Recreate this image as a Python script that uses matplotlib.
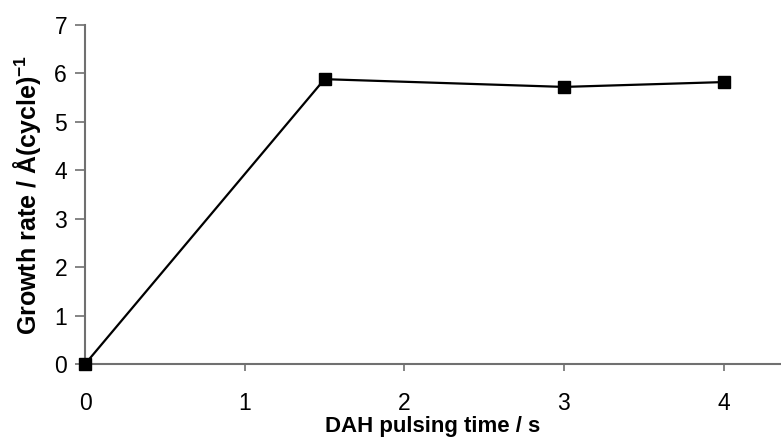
import numpy as np
import matplotlib.pyplot as plt

plt.rcParams['font.family'] = ['Liberation Sans', 'DejaVu Sans']
plt.rcParams['mathtext.fontset'] = 'custom'
plt.rcParams['mathtext.rm'] = 'Liberation Sans'
plt.rcParams['mathtext.bf'] = 'Liberation Sans:bold'

#data
pulse_time = [0, 1.5, 3, 4]
growth_rate = [0, 5.88, 5.72, 5.82]
x_ticks = [0, 1, 2, 3, 4]
y_ticks = [0, 1, 2, 3, 4, 5, 6, 7]

fig = plt.figure(figsize=(7.81, 4.37), dpi=100)
ax = fig.add_axes([0.109, 0.167, 0.891, 0.776])

ax.plot(pulse_time, growth_rate, color='black', lw=1.6,
        marker='s', markersize=9, markerfacecolor='black', clip_on=False, zorder=5)

ax.set_xlim(0, 4.36)
ax.set_ylim(0, 7)
ax.set_xticks(x_ticks)
ax.set_yticks(y_ticks)

for side in ['top', 'right']:
    ax.spines[side].set_visible(False)
for side in ['left', 'bottom']:
    ax.spines[side].set_color('#707070')
    ax.spines[side].set_linewidth(1.5)

ax.tick_params(axis='y', direction='out', length=7, width=1.2, color='#707070',
               labelsize=16.5, pad=6)
ax.tick_params(axis='x', direction='out', length=5, width=1.2, color='#707070',
               labelsize=16.5, pad=15)

ax.set_xlabel('DAH pulsing time / s', fontsize=16, fontweight='bold', labelpad=1)
ax.set_ylabel(r'Growth rate / Å(cycle)$^{\mathbf{-1}}$', fontsize=18,
              fontweight='bold', labelpad=8)

fig.savefig('out.png', dpi=100)
